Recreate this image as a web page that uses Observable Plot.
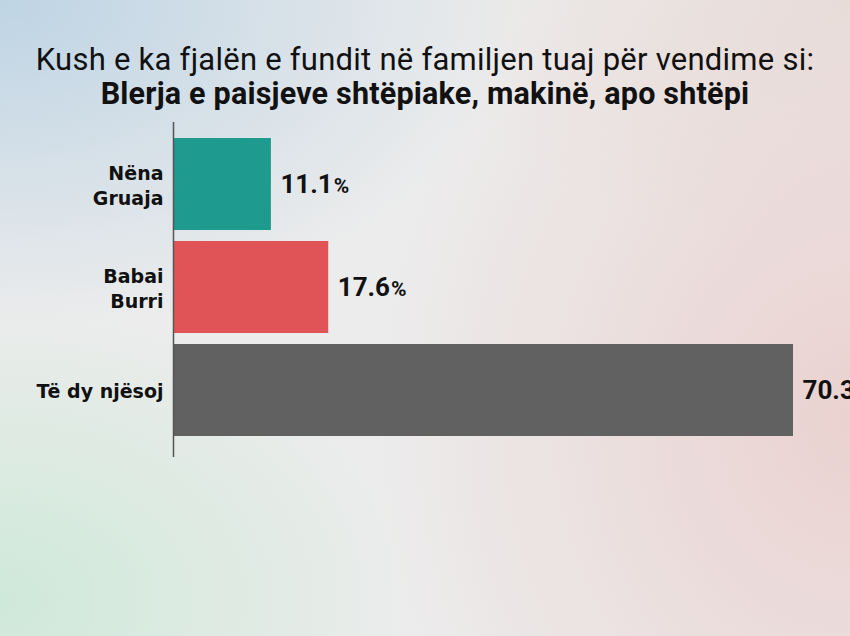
<!DOCTYPE html>
<html>
<head>
<meta charset="utf-8">
<script src="https://cdn.jsdelivr.net/npm/d3@7"></script>
<script src="https://cdn.jsdelivr.net/npm/@observablehq/plot@0.6"></script>
<style>
  html, body { margin: 0; padding: 0; }
  body {
    width: 850px; height: 636px; overflow: hidden;
    background:
      radial-gradient(ellipse 420px 300px at 0px 600px, rgba(205,233,216,0.95), rgba(205,233,216,0) 100%),
      radial-gradient(ellipse 520px 330px at 0px 0px, rgba(190,212,228,1), rgba(190,212,228,0) 100%),
      radial-gradient(ellipse 480px 560px at 850px 420px, rgba(234,210,208,1), rgba(234,210,208,0) 100%),
      radial-gradient(ellipse 420px 260px at 850px 0px, rgba(232,224,220,1), rgba(232,224,220,0) 100%),
      #ececec;
    font-family: Roboto, "Open Sans", sans-serif;
  }
  #title { height: 110px; box-sizing: border-box; padding-top: 43px; text-align: center; color: #111; }
  #title .l1 { font-size: 31px; line-height: 34px; font-weight: 400; letter-spacing: 0.25px; white-space: nowrap; }
  #title .l2 { font-size: 30.5px; line-height: 34px; font-weight: 700; letter-spacing: 0.2px; white-space: nowrap; }
  svg { display: block; background: transparent !important; }
</style>
</head>
<body>
<div id="title">
  <div class="l1">Kush e ka fjalën e fundit në familjen tuaj për vendime si:</div>
  <div class="l2">Blerja e paisjeve shtëpiake, makinë, apo shtëpi</div>
</div>
<div id="chart"></div>
<script>
const categories = ["Nëna\nGruaja", "Babai\nBurri", "Të dy njësoj"];
const values = [11.1, 17.6, 70.3];
const colors = ["#1f9a8e", "#e05457", "#616161"];

const data = categories.map((c, i) => ({cat: c, value: values[i], color: colors[i]}));

const plot = Plot.plot({
  width: 850,
  height: 526,
  marginLeft: 173,
  marginRight: 57,
  marginTop: 27,
  marginBottom: 199,
  style: {background: "transparent", fontFamily: "'DejaVu Sans', sans-serif"},
  x: {domain: [0, 70.3], axis: null},
  y: {domain: categories, axis: null, paddingInner: 0.106, paddingOuter: 0},
  marks: [
    Plot.barX(data, {y: "cat", x: "value", fill: "color"}),
    Plot.ruleX([0], {stroke: "#555", strokeWidth: 1.5, insetTop: -15, insetBottom: -20}),
    Plot.text(data, {
      y: "cat", x: 0, text: "cat", textAnchor: "end", dx: -10,
      fontSize: 19, fontWeight: "bold", fill: "#111", lineHeight: 1.3
    }),
    Plot.text(data, {
      y: "cat", x: "value", text: d => d.value.toFixed(1), textAnchor: "start", dx: 9,
      fontSize: 26, fontWeight: "bold", fill: "#111", className: "vals",
      fontFamily: "Roboto, sans-serif"
    })
  ]
});

document.getElementById("chart").appendChild(plot);

d3.select(plot).selectAll(".vals text").each(function() {
  const t = d3.select(this);
  const v = t.text();
  t.text(v);
  t.append("tspan").attr("font-size", 21).attr("dx", 1).text("%");
});
</script>
</body>
</html>
